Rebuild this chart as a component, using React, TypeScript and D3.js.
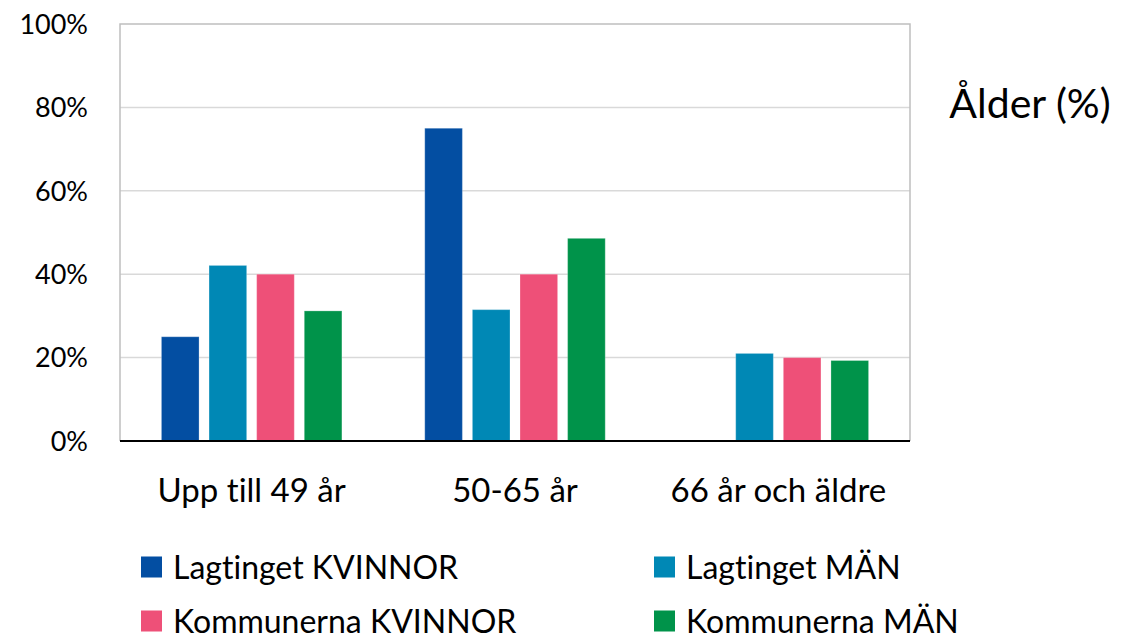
import React from 'react';
import * as d3 from 'd3';

const categories = ['Upp till 49 år', '50-65 år', '66 år och äldre'];
const seriesNames = ['Lagtinget KVINNOR', 'Lagtinget MÄN', 'Kommunerna KVINNOR', 'Kommunerna MÄN'];
const seriesColors = ['#034ea2', '#0088b5', '#ee5078', '#00934a'];
const lagtingetKvinnor = [25, 75, 0];
const lagtingetMan = [42.1, 31.5, 21];
const kommunernaKvinnor = [40, 40, 20];
const kommunernaMan = [31.2, 48.6, 19.3];
const yTicks = [0, 20, 40, 60, 80, 100];
const title = 'Ålder (%)';

const W = 1132;
const H = 635;
const font = 'Lato, "Open Sans", sans-serif';
const textStyle = { fontVariantLigatures: 'none' } as React.CSSProperties;

export default function App() {
  const values = [lagtingetKvinnor, lagtingetMan, kommunernaKvinnor, kommunernaMan];
  const left = 120, right = 910, top = 24, bottom = 441;

  const x0 = d3.scaleBand<string>().domain(categories).range([left, right]);
  const x1 = d3
    .scaleBand<string>()
    .domain(seriesNames)
    .range([0, x0.bandwidth()])
    .paddingInner(0.21)
    .paddingOuter(0.87);
  const y = d3.scaleLinear().domain([0, 100]).range([bottom, top]);

  // legend layout: two columns, two rows
  const legendCols = [141, 654];
  const legendRows = [567, 621];

  return (
    <svg width={W} height={H} style={{ position: 'absolute', left: 0, top: 0, background: '#fff' }}>
      <rect x={0} y={0} width={W} height={H} fill="#fff" />
      {/* gridlines */}
      {yTicks.slice(1, -1).map((t) => (
        <line key={t} x1={left} x2={right} y1={y(t)} y2={y(t)} stroke="#d9d9d9" strokeWidth={1.5} />
      ))}
      {/* frame */}
      <path
        d={`M${left},${bottom} V${top} H${right} V${bottom}`}
        fill="none"
        stroke="#bfbfbf"
        strokeWidth={1.5}
      />
      {/* bars */}
      {categories.map((c, ci) =>
        seriesNames.map((s, si) => {
          const v = values[si][ci];
          if (!v) return null;
          return (
            <rect
              key={c + s}
              x={(x0(c) ?? 0) + (x1(s) ?? 0)}
              y={y(v)}
              width={x1.bandwidth()}
              height={y(0) - y(v)}
              fill={seriesColors[si]}
              stroke="#ffffff"
              strokeOpacity={0.25}
              strokeWidth={1}
            />
          );
        })
      )}
      {/* x axis line */}
      <line x1={left} x2={right} y1={bottom} y2={bottom} stroke="#000" strokeWidth={2} />
      {/* y tick labels */}
      {yTicks.map((t) => (
        <text
          key={t}
          x={88}
          y={y(t)}
          dy="0.36em"
          textAnchor="end"
          fontFamily={font}
          fontSize={27}
          fill="#000"
          style={textStyle}
        >
          {t}%
        </text>
      ))}
      {/* x labels */}
      {categories.map((c) => (
        <text
          key={c}
          x={(x0(c) ?? 0) + x0.bandwidth() / 2}
          y={502}
          textAnchor="middle"
          fontFamily={font}
          fontSize={33}
          fill="#000"
          style={textStyle}
        >
          {c}
        </text>
      ))}
      {/* title */}
      <text x={1030} y={118} textAnchor="middle" fontFamily={font} fontSize={41} fill="#000" style={textStyle}>
        {title}
      </text>
      {/* legend */}
      {seriesNames.map((s, i) => {
        const lx = legendCols[i % 2];
        const ly = legendRows[Math.floor(i / 2)];
        return (
          <g key={s}>
            <rect x={lx} y={ly - 10.5} width={21} height={21} fill={seriesColors[i]} />
            <text x={lx + 32} y={ly} dy="0.36em" fontFamily={font} fontSize={32} fill="#000" style={textStyle}>
              {s}
            </text>
          </g>
        );
      })}
    </svg>
  );
}
